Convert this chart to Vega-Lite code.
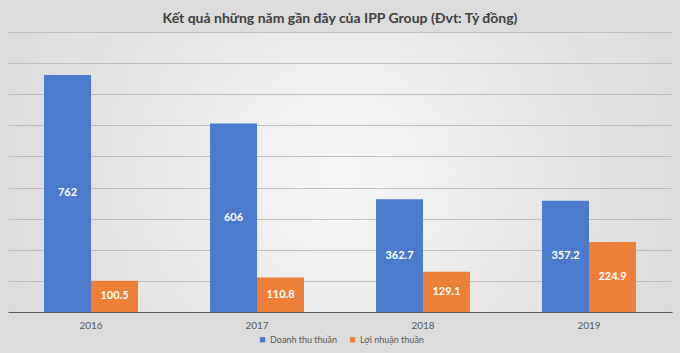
{
  "$schema": "https://vega.github.io/schema/vega-lite/v6.json",
  "width": 664,
  "height": 280,
  "autosize": {"type": "none"},
  "padding": {"left": 8, "top": 32, "right": 8, "bottom": 41},
  "background": "#dcdcdc",
  "title": {
    "text": "Kết quả những năm gần đây của IPP Group (Đvt: Tỷ đồng)",
    "font": "Lato",
    "fontSize": 14,
    "fontWeight": "bold",
    "color": "#404040",
    "anchor": "middle",
    "offset": 6
  },
  "config": {
    "view": {
      "stroke": null,
      "fill": {
        "gradient": "radial",
        "x1": 0.5, "y1": 0.5, "r1": 0,
        "x2": 0.5, "y2": 0.5, "r2": 0.75,
        "stops": [
          {"offset": 0, "color": "#f7f7f7"},
          {"offset": 1, "color": "#d0d0d0"}
        ]
      }
    },
    "font": "Lato"
  },
  "data": {
    "values": [
      {"year": "2016", "series": "Doanh thu thuần", "value": 762},
      {"year": "2016", "series": "Lợi nhuận thuần", "value": 100.5},
      {"year": "2017", "series": "Doanh thu thuần", "value": 606},
      {"year": "2017", "series": "Lợi nhuận thuần", "value": 110.8},
      {"year": "2018", "series": "Doanh thu thuần", "value": 362.7},
      {"year": "2018", "series": "Lợi nhuận thuần", "value": 129.1},
      {"year": "2019", "series": "Doanh thu thuần", "value": 357.2},
      {"year": "2019", "series": "Lợi nhuận thuần", "value": 224.9}
    ]
  },
  "transform": [{"calculate": "datum.value / 2", "as": "mid"}],
  "encoding": {
    "x": {
      "field": "year",
      "type": "nominal",
      "scale": {"paddingInner": 0.434, "paddingOuter": 0.217},
      "axis": {
        "title": null,
        "labelAngle": 0,
        "labelFontSize": 10,
        "labelColor": "#595959",
        "labelPadding": 8,
        "ticks": false,
        "grid": false,
        "domainColor": "#5a5a5a",
        "domainWidth": 1.2
      }
    },
    "xOffset": {"field": "series", "type": "nominal"}
  },
  "layer": [
    {
      "mark": {"type": "bar"},
      "encoding": {
        "y": {
          "field": "value",
          "type": "quantitative",
          "scale": {"domain": [0, 900], "nice": false},
          "axis": {
            "title": null,
            "grid": true,
            "tickCount": 9,
            "labels": false,
            "labelOverlap": false,
            "ticks": false,
            "domain": false,
            "gridColor": "#bdbdbd",
            "gridWidth": 1,
            "gridOpacity": 1
          }
        },
        "color": {
          "field": "series",
          "type": "nominal",
          "scale": {"domain": ["Doanh thu thuần", "Lợi nhuận thuần"], "range": ["#4a7bcd", "#ee7f38"]},
          "legend": {
            "title": null,
            "orient": "none",
            "legendX": 250,
            "legendY": 303,
            "direction": "horizontal",
            "symbolType": "square",
            "symbolSize": 28,
            "symbolStrokeWidth": 0,
            "labelFontSize": 9,
            "labelOffset": 3,
            "labelColor": "#595959",
            "columnPadding": 10
          }
        }
      }
    },
    {
      "mark": {"type": "text", "color": "white", "fontWeight": "bold", "fontSize": 11, "baseline": "middle"},
      "encoding": {
        "y": {"field": "mid", "type": "quantitative"},
        "text": {"field": "value", "type": "quantitative", "format": "~f"}
      }
    }
  ]
}
